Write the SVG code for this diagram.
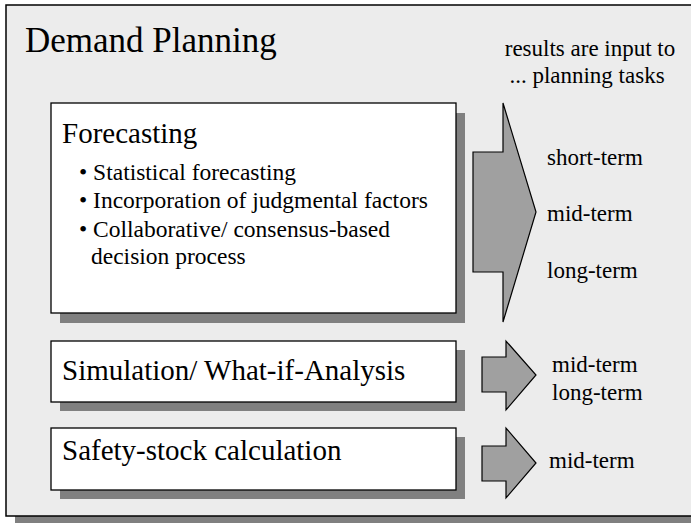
<svg xmlns="http://www.w3.org/2000/svg" width="691" height="523" viewBox="0 0 691 523">
<style>
.shadow{fill:#808080;stroke:none}
.box{fill:#ffffff;stroke:#000;stroke-width:1.3}
.arrow{fill:#a0a0a0;stroke:#000;stroke-width:1.2;stroke-linejoin:miter}
text{font-family:"Liberation Serif","Times New Roman",serif;fill:#000}
.t29{font-size:29px}
.t23{font-size:23px}
.b{font-size:23.5px}
</style>
<rect x="0" y="0" width="691" height="523" fill="#ffffff"/>
<g id="frame">
<rect class="shadow" x="15" y="14" width="690" height="520"/>
<rect x="6" y="5" width="700" height="511" fill="#ececec" stroke="#000" stroke-width="1.5"/>
<text x="25" y="52" style="font-size:35px">Demand Planning</text>
<text class="t23" x="590" y="56" text-anchor="middle">results are input to</text>
<text class="t23" x="587" y="83" text-anchor="middle">... planning tasks</text>
</g>
<g id="forecasting">
<rect class="shadow" x="60" y="113" width="405" height="210"/>
<rect class="box" x="51" y="103" width="405" height="210"/>
<text class="t29" x="62" y="143">Forecasting</text>
<text class="b" x="79" y="180">• Statistical forecasting</text>
<text class="b" x="79" y="208">• Incorporation of judgmental factors</text>
<text class="b" x="79" y="237">• Collaborative/ consensus-based</text>
<text class="b" x="91" y="264">decision process</text>
</g>
<g id="simulation">
<rect class="shadow" x="60" y="350" width="405" height="61"/>
<rect class="box" x="51" y="341" width="405" height="61"/>
<text class="t29" x="62" y="380">Simulation/ What-if-Analysis</text>
</g>
<g id="safety">
<rect class="shadow" x="60" y="437" width="405" height="62"/>
<rect class="box" x="51" y="428" width="405" height="62"/>
<text class="t29" x="62" y="460">Safety-stock calculation</text>
</g>
<g id="connectors">
<polygon class="arrow" points="473,152 503,152 503,103 536,212 503,322 503,272 473,272"/>
<polygon class="arrow" points="482,357 506,357 506,341 536,375 506,410 506,392 482,392"/>
<polygon class="arrow" points="482,446 506,446 506,428 536,463 506,498 506,481 482,481"/>
</g>
<g id="labels">
<text class="t23" x="547" y="165">short-term</text>
<text class="t23" x="547" y="221">mid-term</text>
<text class="t23" x="547" y="278">long-term</text>
<text class="t23" x="552" y="372">mid-term</text>
<text class="t23" x="552" y="400">long-term</text>
<text class="t23" x="549" y="468">mid-term</text>
</g>
</svg>
